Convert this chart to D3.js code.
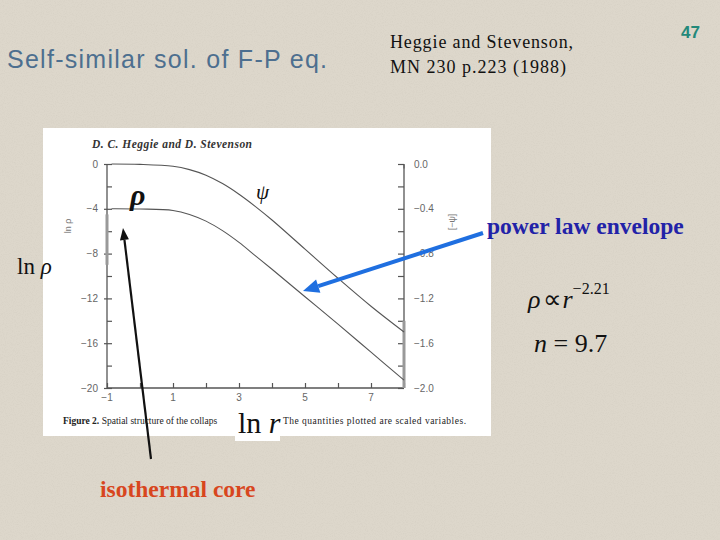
<!DOCTYPE html>
<html><head><meta charset="utf-8">
<script src="https://cdn.jsdelivr.net/npm/d3@7"></script>
<style>html,body{margin:0;padding:0;background:#ddd7cb;}svg{display:block;}</style>
</head><body>
<script>
// ---- data ----
const lnR      = [-0.86, 0, 1, 1.5, 2, 2.5, 3, 3.5, 4, 5, 6, 7, 8];
const lnRho    = [-4.0, -4.02, -4.15, -4.5, -5.1, -5.95, -7.0, -8.2, -9.4, -11.85, -14.3, -16.8, -19.3];
const negPsi   = [0.0, -0.003, -0.02, -0.05, -0.1, -0.175, -0.27, -0.38, -0.5, -0.76, -1.02, -1.27, -1.50];
const xTicks   = [-1, 0, 1, 2, 3, 4, 5, 6, 7, 8];
const xLabels  = [-1, 1, 3, 5, 7];
const yLTicks  = [0, -2, -4, -6, -8, -10, -12, -14, -16, -18, -20];
const yLLabels = [0, -4, -8, -12, -16, -20];
const yRTicks  = [0, -0.2, -0.4, -0.6, -0.8, -1.0, -1.2, -1.4, -1.6, -1.8, -2.0];
const yRLabels = [0, -0.4, -0.8, -1.2, -1.6, -2.0];

const W = 720, H = 540;
const svg = d3.select("body").append("svg").attr("width", W).attr("height", H);

// background with faint paper texture
const defs = svg.append("defs");
const flt = defs.append("filter").attr("id", "paper").attr("x", 0).attr("y", 0).attr("width", "100%").attr("height", "100%");
flt.append("feTurbulence").attr("type", "fractalNoise").attr("baseFrequency", 0.9).attr("numOctaves", 2).attr("seed", 3);
flt.append("feColorMatrix").attr("type", "matrix")
  .attr("values", "0 0 0 0 0.45  0 0 0 0 0.42  0 0 0 0 0.36  0 0 0 -1.6 0.9");
svg.append("rect").attr("width", W).attr("height", H).attr("fill", "#ddd7cb");
svg.append("rect").attr("width", W).attr("height", H).attr("filter", "url(#paper)").attr("opacity", 0.18);

// slide texts
svg.append("text").attr("x", 7).attr("y", 68).text("Self-similar sol. of F-P eq.")
  .attr("font-family", "Liberation Sans, Arial, sans-serif").attr("font-size", 25)
  .attr("textLength", 320).attr("fill", "#4d6f8f");
svg.append("text").attr("x", 390).attr("y", 48).text("Heggie and Stevenson,")
  .attr("font-family", "Liberation Serif, Times New Roman, serif").attr("font-size", 18)
  .attr("textLength", 183).attr("fill", "#111");
svg.append("text").attr("x", 390).attr("y", 73).text("MN 230 p.223 (1988)")
  .attr("font-family", "Liberation Serif, Times New Roman, serif").attr("font-size", 18)
  .attr("textLength", 176).attr("fill", "#111");
svg.append("text").attr("x", 681).attr("y", 38).text("47")
  .attr("font-family", "Liberation Sans Narrow, Arial, sans-serif").attr("font-size", 17)
  .attr("font-weight", "bold").attr("fill", "#23897a");

// figure panel
svg.append("rect").attr("x", 43).attr("y", 128).attr("width", 448).attr("height", 308).attr("fill", "#fff");

const x = d3.scaleLinear().domain([-1, 8]).range([107, 404]);
const yL = d3.scaleLinear().domain([0, -20]).range([164, 388]);
const yR = d3.scaleLinear().domain([0, -2]).range([164, 388]);
const axCol = "#555";

svg.append("text").attr("x", 92).attr("y", 148).text("D. C. Heggie and D. Stevenson")
  .attr("font-family", "Liberation Serif, serif").attr("font-style", "italic").attr("font-weight", "bold")
  .attr("font-size", 11.5).attr("textLength", 160).attr("fill", "#333");

// axes
const gL = svg.append("g").attr("transform", `translate(${x(-1)},0)`)
  .call(d3.axisLeft(yL).tickValues(yLTicks).tickSize(-5).tickFormat(""));
const gR = svg.append("g").attr("transform", `translate(${x(8)},0)`)
  .call(d3.axisRight(yR).tickValues(yRTicks).tickSize(-6).tickFormat(""));
const gB = svg.append("g").attr("transform", `translate(0,${yL(-20)})`)
  .call(d3.axisBottom(x).tickValues(xTicks).tickSize(-5).tickFormat(""));
[gL, gR, gB].forEach(g => {
  g.select(".domain").attr("stroke", axCol).attr("stroke-width", 1.3);
  g.selectAll(".tick line").attr("stroke", axCol).attr("stroke-width", 1.2);
});
gB.select(".domain").attr("d", `M${x(-1)},0H${x(8)}`);
gL.select(".domain").attr("d", `M0,${yL(0)}V${yL(-20)}`);
gR.select(".domain").attr("d", `M0,${yR(0)}V${yR(-2)}`);
gL.selectAll(".tick").filter(d => yLLabels.includes(d)).append("line")
  .attr("x1", -3).attr("x2", 0).attr("stroke", axCol).attr("stroke-width", 1.2);
gR.selectAll(".tick").filter(d => d === 0).append("line")
  .attr("x1", 0).attr("x2", 0).attr("y1", 0).attr("y2", 4).attr("stroke", axCol);
// scan smudges on axes
svg.append("line").attr("x1", x(-1)).attr("x2", x(-1)).attr("y1", yL(-4.5)).attr("y2", yL(-9))
  .attr("stroke", "#999").attr("stroke-width", 3);
svg.append("line").attr("x1", x(8)).attr("x2", x(8)).attr("y1", yR(-1.4)).attr("y2", yR(-2))
  .attr("stroke", "#999").attr("stroke-width", 3);

const tickFont = "Liberation Sans, Arial, sans-serif";
svg.append("g").selectAll("text").data(yLLabels).join("text")
  .attr("x", x(-1) - 9).attr("y", d => yL(d) + 3.5).attr("text-anchor", "end")
  .attr("font-family", tickFont).attr("font-size", 10).attr("fill", "#666").text(d => d === 0 ? "0" : "\u2212" + Math.abs(d));
svg.append("g").selectAll("text").data(yRLabels).join("text")
  .attr("x", x(8) + 10).attr("y", d => yR(d) + 3.5)
  .attr("font-family", tickFont).attr("font-size", 10).attr("fill", "#666")
  .text(d => d === 0 ? "0.0" : "\u2212" + Math.abs(d).toFixed(1));
svg.append("g").selectAll("text").data(xLabels).join("text")
  .attr("x", d => x(d)).attr("y", yL(-20) + 13).attr("text-anchor", "middle")
  .attr("font-family", tickFont).attr("font-size", 10).attr("fill", "#666")
  .text(d => d < 0 ? "\u2212" + Math.abs(d) : d);
svg.append("text").attr("transform", "translate(71,226) rotate(-90)").attr("text-anchor", "middle")
  .attr("font-family", tickFont).attr("font-size", 9).attr("fill", "#777").text("ln \u03c1");
svg.append("text").attr("transform", "translate(455,222) rotate(-90)").attr("text-anchor", "middle")
  .attr("font-family", tickFont).attr("font-size", 9).attr("fill", "#777").text("[\u2212\u03c8]");

// curves
const lineL = d3.line().x((d, i) => x(lnR[i])).y(d => yL(d)).curve(d3.curveCatmullRom.alpha(0.5));
const lineR = d3.line().x((d, i) => x(lnR[i])).y(d => yR(d)).curve(d3.curveCatmullRom.alpha(0.5));
svg.append("path").attr("d", lineL(lnRho)).attr("fill", "none").attr("stroke", "#555").attr("stroke-width", 1.1);
svg.append("path").attr("d", lineR(negPsi)).attr("fill", "none").attr("stroke", "#555").attr("stroke-width", 1.1);
svg.append("text").attr("x", 130).attr("y", 205).text("\u03c1")
  .attr("font-family", "Liberation Serif, serif").attr("font-style", "italic").attr("font-weight", "bold")
  .attr("font-size", 30).attr("fill", "#111");
svg.append("text").attr("x", 256).attr("y", 199).text("\u03c8")
  .attr("font-family", "Liberation Serif, serif").attr("font-style", "italic")
  .attr("font-size", 21).attr("fill", "#111");

// caption
const cap = svg.append("text").attr("x", 63).attr("y", 424)
  .attr("font-family", "Liberation Serif, serif").attr("font-size", 9.5).attr("fill", "#222");
cap.append("tspan").attr("font-weight", "bold").text("Figure 2. ");
cap.append("tspan").text("Spatial structure of the collaps");
svg.append("text").attr("x", 283).attr("y", 424).text("The quantities plotted are scaled variables.")
  .attr("font-family", "Liberation Serif, serif").attr("font-size", 9.5).attr("fill", "#222")
  .attr("textLength", 183);

// ln r box
svg.append("rect").attr("x", 235).attr("y", 405).attr("width", 45).attr("height", 36).attr("fill", "#fff");
const lnr = svg.append("text").attr("x", 238).attr("y", 433)
  .attr("font-family", "Liberation Serif, serif").attr("font-size", 30).attr("fill", "#111");
lnr.append("tspan").text("ln ");
lnr.append("tspan").attr("font-style", "italic").text("r");

const lnrho = svg.append("text").attr("x", 17).attr("y", 274)
  .attr("font-family", "Liberation Serif, serif").attr("font-size", 23).attr("fill", "#111");
lnrho.append("tspan").text("ln ");
lnrho.append("tspan").attr("font-style", "italic").text("\u03c1");

// right annotations
svg.append("text").attr("x", 487).attr("y", 234).text("power law envelope")
  .attr("font-family", "Liberation Serif, serif").attr("font-weight", "bold").attr("font-size", 23.5)
  .attr("fill", "#2222a8");
const f1 = svg.append("text").attr("x", 528).attr("y", 308)
  .attr("font-family", "Liberation Serif, serif").attr("font-size", 26).attr("fill", "#111");
f1.append("tspan").attr("font-style", "italic").text("\u03c1");
f1.append("tspan").attr("dx", 3).text("\u221d");
f1.append("tspan").attr("font-style", "italic").text("r");
f1.append("tspan").attr("dy", -14).attr("font-size", 16).text("\u22122.21");
const f2 = svg.append("text").attr("x", 534).attr("y", 352)
  .attr("font-family", "Liberation Serif, serif").attr("font-size", 26).attr("fill", "#111");
f2.append("tspan").attr("font-style", "italic").text("n");
f2.append("tspan").text(" = 9.7");

svg.append("text").attr("x", 100).attr("y", 497).text("isothermal core")
  .attr("font-family", "Liberation Serif, serif").attr("font-weight", "bold").attr("font-size", 23.5)
  .attr("fill", "#d8461e");

// arrows
function arrow(x1, y1, x2, y2, col, w, hl, hw) {
  const a = Math.atan2(y2 - y1, x2 - x1);
  const bx = x2 - hl * Math.cos(a), by = y2 - hl * Math.sin(a);
  svg.append("line").attr("x1", x1).attr("y1", y1).attr("x2", bx).attr("y2", by)
    .attr("stroke", col).attr("stroke-width", w);
  const px = -Math.sin(a) * hw, py = Math.cos(a) * hw;
  svg.append("polygon").attr("points", `${x2},${y2} ${bx + px},${by + py} ${bx - px},${by - py}`).attr("fill", col);
}
arrow(151, 459, 123, 228, "#111", 2.2, 12, 4.5);
arrow(483, 233, 303, 291, "#1f6fe0", 4, 16, 7);
</script>
</body></html>
